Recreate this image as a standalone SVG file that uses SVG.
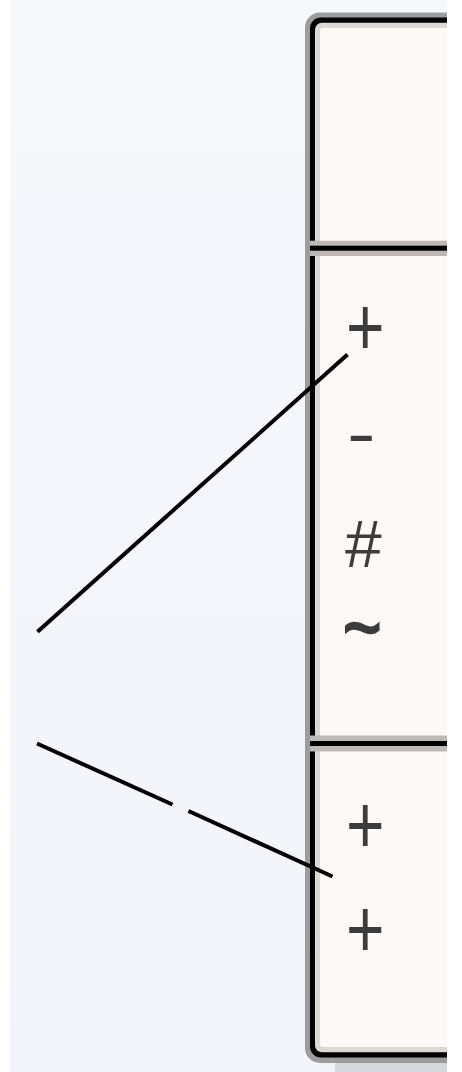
<svg xmlns="http://www.w3.org/2000/svg" width="462" height="1072" viewBox="0 0 462 1072">
  <defs>
    <linearGradient id="bg" x1="0" y1="0" x2="0" y2="1">
      <stop offset="0" stop-color="#f7f8fc"/>
      <stop offset="1" stop-color="#f2f4f9"/>
    </linearGradient>
    <style>
      .mark { font-family: "Liberation Sans", Arial, sans-serif; font-size: 66px; fill: #3c3c3c; }
      .tilde { font-family: "Liberation Sans", Arial, sans-serif; font-size: 40px; fill: #3c3c3c; stroke: #3c3c3c; stroke-width: 1.2; }
      .conn { stroke: #000; stroke-width: 4; fill: none; }
      .divhalo { fill: #bdb9b5; }
      .divline { fill: #000; }
    </style>
  </defs>

  <rect x="0" y="0" width="462" height="1072" fill="#ffffff"/>
  <rect x="10" y="0" width="437" height="1072" fill="url(#bg)"/>

  <g id="class-box">
    <rect x="335" y="1040" width="140" height="32" fill="#d7d8dd"/>
    <rect x="305" y="12.5" width="200" height="1050.5" rx="15" fill="#9c9c9c"/>
    <rect x="310" y="17.5" width="200" height="1040" rx="11" fill="#000"/>
    <rect x="315" y="22.7" width="200" height="1029.5" rx="7" fill="#dcd8d4"/>
    <rect x="320" y="28" width="200" height="1019" rx="3" fill="#fdf9f6"/>

    <g id="divider-1">
      <rect class="divhalo" x="310" y="240.7" width="150" height="15.3"/>
      <rect class="divline" x="310" y="245.7" width="150" height="5"/>
    </g>
    <g id="divider-2">
      <rect class="divhalo" x="310" y="735.5" width="150" height="16"/>
      <rect class="divline" x="310" y="741" width="150" height="5"/>
    </g>

    <g id="attributes">
      <text class="mark" transform="translate(346,355.2) scale(1,1.26)">+</text>
      <text class="mark" transform="translate(347,456) scale(1.3,1)">-</text>
      <text class="mark" x="345" y="567">#</text>
      <text class="tilde" transform="translate(343,654.5) scale(1.65,2)">~</text>
    </g>
    <g id="operations">
      <text class="mark" transform="translate(346,853.2) scale(1,1.26)">+</text>
      <text class="mark" transform="translate(346,956.7) scale(1,1.26)">+</text>
    </g>
  </g>

  <rect x="447" y="0" width="15" height="1072" fill="#ffffff"/>

  <g id="connectors">
    <line class="conn" x1="37.5" y1="631.7" x2="347.5" y2="354.5"/>
    <line class="conn" x1="37" y1="743.5" x2="172.5" y2="804.5"/>
    <line class="conn" x1="188.5" y1="811" x2="332.5" y2="876.5"/>
  </g>
</svg>
